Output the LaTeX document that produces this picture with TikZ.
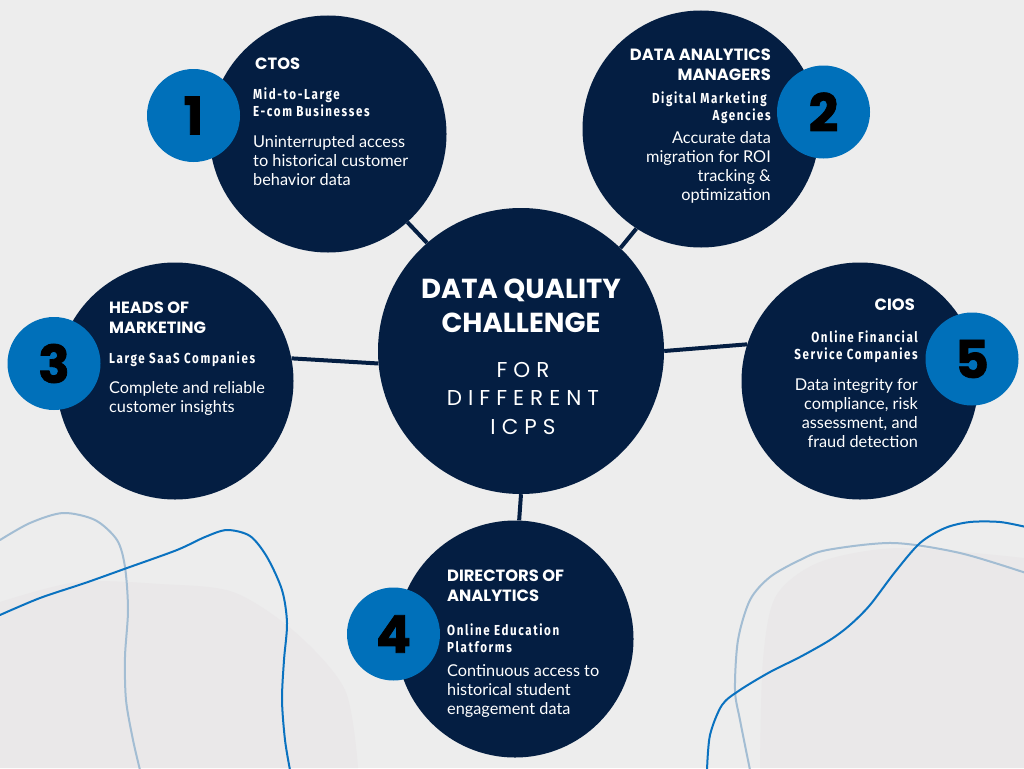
\documentclass[tikz,border=0pt]{standalone}
\usepackage{fontspec}
\setmainfont{Lato}
\newfontfamily\headfont{Poppins}
\newfontfamily\numfont{Poppins}[FakeBold=1.5]
\newfontfamily\subfont{Fira Sans}[FakeStretch=0.8,LetterSpace=11]
\newfontfamily\widefont{Poppins}[LetterSpace=28]
\usepackage{xcolor}
\definecolor{navy}{HTML}{041E42}
\definecolor{cobalt}{HTML}{0070BA}
\definecolor{paper}{HTML}{EDEDED}
\definecolor{haze}{HTML}{EAE8E9}
\definecolor{mist}{HTML}{A3BDD3}
\definecolor{wave}{HTML}{0A72C0}
\tikzset{
  hubcircle/.style={circle,fill=navy,minimum size=286pt,inner sep=0},
  icp/.style={circle,fill=navy,minimum size=237pt,inner sep=0},
  badge/.style={circle,fill=cobalt,minimum size=93pt,inner sep=0,text=black,font=\numfont\bfseries\fontsize{52}{52}\selectfont},
  link/.style={draw=navy,line width=4pt},
  ttl/.style={text=white,inner sep=0,font=\headfont\bfseries\fontsize{16.3}{20}\selectfont},
  subline/.style={text=white,inner sep=0,font=\subfont\bfseries\fontsize{14.5}{17}\selectfont},
  txt/.style={text=white,inner sep=0,font=\fontsize{16.3}{19}\selectfont},
  swirl/.style={line width=2pt,line cap=round}
}

\begin{document}
\begin{tikzpicture}[x=1pt,y=-1pt]
        \useasboundingbox (0,0) rectangle (1024,768);
        \clip (0,0) rectangle (1024,768);
        \fill[paper] (0,0) rectangle (1024,768);
        \fill[haze] plot[smooth] coordinates {(0,602) (77,582) (160,584) (233,592) (295,632) (345,690) (358,768)} -- (0,768) -- cycle;
        \fill[haze] plot[smooth] coordinates {(1024,558) (900,548) (820,562) (776,596) (763,660) (760,768)} -- (1024,768) -- cycle;
        \draw[swirl,mist] plot[smooth] coordinates {(0,540) (30,523) (63,513) (95,520) (117,540) (125,567) (128,610) (125,657) (126,700) (133,740) (140,770)};
        \draw[swirl,wave] plot[smooth] coordinates {(0,615) (40,598) (85,583) (127,568) (177,550) (205,537) (227,530) (250,536) (267,557) (282,590) (287,623) (284,660) (282,700) (285,740) (290,770)};
        \draw[swirl,mist] plot[smooth] coordinates {(750,770) (740,720) (735,690) (738,640) (750,600) (770,577) (800,560) (827,550) (893,543) (960,553) (1026,573)};
        \draw[swirl,wave] plot[smooth] coordinates {(707,770) (710,735) (722,705) (740,690) (770,672) (800,657) (830,640) (850,625) (870,605) (895,572) (920,543) (945,528) (970,522) (1000,522) (1026,527)};

        \node[hubcircle] (hub) at (521,351) {};
        \node[icp] (ctos) at (328,134) {};
        \node[icp] (dam) at (701,129) {};
        \node[icp] (hom) at (175,381) {};
        \node[icp] (cios) at (860,381) {};
        \node[icp] (doa) at (515,639) {};
        \draw[link] (ctos.-48) -- (hub.131);
        \draw[link] (dam.237) -- (hub.46);
        \draw[link] (hom.11) -- (hub.185);
        \draw[link] (cios.162) -- (hub.0);
        \draw[link] (doa.88) -- (hub.270);
        \node[badge] (b1) at (193.5,115.5) {1};
        \node[badge] (b2) at (823.5,112) {2};
        \node[badge] (b3) at (54,363.5) {3};
        \node[badge] (b4) at (393.5,634) {4};
        \node[badge] (b5) at (972,359) {5};

        \node[text=white,inner sep=0,align=center,anchor=north,font=\headfont\bfseries\fontsize{27.5}{34}\selectfont] (hubtitle) at (521,279) {DATA QUALITY\\CHALLENGE};
        \node[text=white,inner sep=0,align=center,anchor=north,font=\widefont\fontsize{21.5}{28.5}\selectfont] (hubsub) at (523,362) {FOR\\DIFFERENT\\ICPS};

        \node[ttl,anchor=north west] (t1) at (255,58) {CTOS};
        \node[subline,align=left,anchor=north west] (s1) at (253,88) {Mid-to-Large\\E-com Businesses};
        \node[txt,align=left,anchor=north west] (d1) at (253,135) {Uninterrupted access\\to historical customer\\behavior data};

        \node[ttl,align=right,anchor=north east] (t2) at (771,49) {DATA ANALYTICS\\MANAGERS};
        \node[subline,align=right,anchor=north east] (s2) at (771,92) {Digital Marketing\hspace*{4pt}\\Agencies};
        \node[txt,align=right,anchor=north east] (d2) at (771,131) {Accurate data\\migration for ROI\\tracking \&\hspace*{9pt}\\optimization};

        \node[ttl,align=left,anchor=north west] (t3) at (109,302) {HEADS OF\\MARKETING};
        \node[subline,anchor=north west] (s3) at (109,352) {Large SaaS Companies};
        \node[txt,align=left,anchor=north west] (d3) at (109,381) {Complete and reliable\\customer insights};

        \node[ttl,anchor=north east] (t5) at (915,299) {CIOS};
        \node[subline,align=right,anchor=north east] (s5) at (918,331) {Online Financial\\Service Companies};
        \node[txt,align=right,anchor=north east] (d5) at (918,378) {Data integrity for\\compliance, risk\\assessment, and\\fraud detection};

        \node[ttl,align=left,anchor=north west] (t4) at (447,570) {DIRECTORS OF\\ANALYTICS};
        \node[subline,align=left,anchor=north west] (s4) at (447,624) {Online Education\\Platforms};
        \node[txt,align=left,anchor=north west] (d4) at (447,664) {Continuous access to\\historical student\\engagement data};
      \end{tikzpicture}
\end{document}
